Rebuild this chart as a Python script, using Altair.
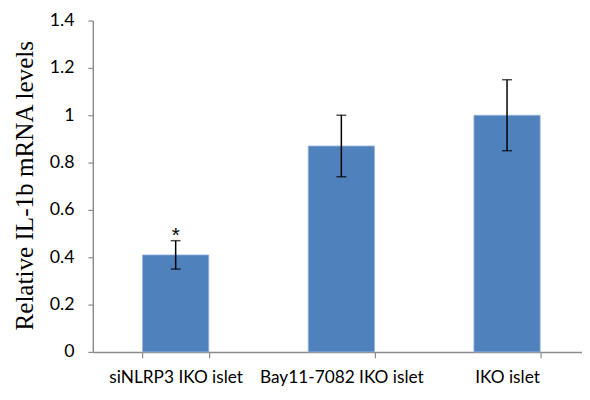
import altair as alt
import pandas as pd

categories = ["siNLRP3 IKO islet", "Bay11-7082 IKO islet", "IKO islet"]
values = [0.41, 0.87, 1.0]
errors = [0.06, 0.13, 0.15]
marks = ["*", "", ""]
y_ticks = [0, 0.2, 0.4, 0.6, 0.8, 1.0, 1.2, 1.4]
y_title = "Relative IL-1b mRNA levels"

df = pd.DataFrame({
    "cat": categories,
    "val": values,
    "lo": [v - e for v, e in zip(values, errors)],
    "hi": [v + e for v, e in zip(values, errors)],
    "mark": marks,
})

xscale = alt.Scale(paddingInner=0.60, paddingOuter=0.30, range=[0, 504])
x = alt.X("cat:N", sort=categories, title=None, scale=xscale,
          axis=alt.Axis(labelAngle=0, labelFont="Lato", labelFontSize=17.5,
                        labelColor="black", labelPadding=11, tickBand="extent",
                        tickSize=6, tickColor="#8c8c8c", domainColor="#8c8c8c",
                        domainWidth=1.5, tickWidth=1.2))
y = alt.Y("val:Q", title=y_title,
          scale=alt.Scale(domain=[0, 1.4], nice=False),
          axis=alt.Axis(values=y_ticks, format="~g",
                        grid=False, labelFont="Lato", labelFontSize=18,
                        labelColor="black", tickSize=5, tickColor="#8c8c8c",
                        domainColor="#8c8c8c", domainWidth=1.5, tickWidth=1.2,
                        labelPadding=14,
                        titleFont="Liberation Serif", titleFontSize=25.5,
                        titleFontWeight="normal", titleColor="black",
                        titleX=-61, titleY=167, titleBaseline="alphabetic",
                        titleAngle=270))

base = alt.Chart(df)
bars = base.mark_bar(color="#4F81BD", stroke="#9DB8DC", strokeWidth=0.8).encode(x=x, y=y)
err = base.mark_errorbar(ticks=alt.MarkConfig(size=10, color="black", strokeWidth=1.5),
                         color="black", thickness=1.5).encode(
    x=alt.X("cat:N", sort=categories, title=None),
    y=alt.Y("lo:Q", title=y_title), y2="hi:Q")
star = base.mark_text(font="Liberation Sans", fontSize=21, color="black",
                      dy=1, baseline="alphabetic").encode(
    x=alt.X("cat:N", sort=categories, title=None),
    y=alt.Y("hi:Q", title=y_title), text="mark:N")

chart = (bars + err + star).properties(
    width=496, height=336,
    autosize=alt.AutoSizeParams(type="none"),
    padding={"left": 86, "top": 10, "right": 0, "bottom": 44},
).configure_view(stroke=None)

chart.save("out.html", embed_options={"renderer": "svg", "actions": False})
